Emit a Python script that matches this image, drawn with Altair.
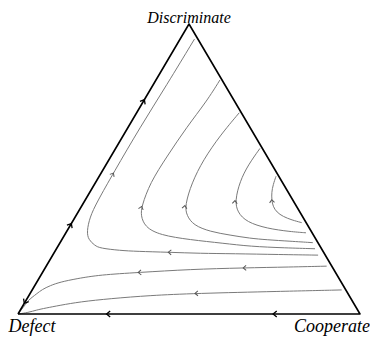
import math
import altair as alt
import pandas as pd

# vertices of the simplex (share of Cooperate, share of Discriminate)
vertex_names = ["Defect", "Cooperate", "Discriminate"]
vertex_coop = [0.0, 1.0, 0.0]
vertex_disc = [0.0, 0.0, 1.0]

# trajectories, in the direction of flow (cooperate share, discriminate share)
a_coop = [0.776, 0.664, 0.525, 0.428, 0.333, 0.239, 0.189, 0.126, 0.107, 0.078, 0.059, 0.043, 0.038, 0.036, 0.035, 0.040, 0.042]
a_disc = [0.203, 0.205, 0.208, 0.209, 0.213, 0.216, 0.219, 0.227, 0.236, 0.256, 0.284, 0.334, 0.385, 0.486, 0.644, 0.790, 0.948]
a_arrows = [4, 13]

b_coop = [0.756, 0.667, 0.562, 0.478, 0.375, 0.279, 0.221, 0.189, 0.176, 0.160, 0.164, 0.171, 0.185, 0.187]
b_disc = [0.225, 0.228, 0.233, 0.244, 0.256, 0.272, 0.300, 0.340, 0.371, 0.452, 0.543, 0.644, 0.734, 0.807]
b_arrows = [8]

c_coop = [0.739, 0.670, 0.599, 0.548, 0.484, 0.420, 0.360, 0.323, 0.301, 0.282, 0.276, 0.283, 0.300]
c_disc = [0.246, 0.251, 0.256, 0.261, 0.272, 0.284, 0.306, 0.340, 0.374, 0.452, 0.531, 0.615, 0.694]
c_arrows = [8]

d_coop = [0.702, 0.654, 0.580, 0.510, 0.466, 0.439, 0.420, 0.416, 0.422]
d_disc = [0.280, 0.284, 0.295, 0.317, 0.351, 0.391, 0.458, 0.514, 0.571]
d_arrows = [5]

e_coop = [0.672, 0.639, 0.607, 0.581, 0.560, 0.545, 0.532, 0.523, 0.517]
e_disc = [0.315, 0.324, 0.336, 0.351, 0.371, 0.394, 0.419, 0.446, 0.475]
e_arrows = [5]

f_coop = [0.820, 0.714, 0.579, 0.426, 0.280, 0.172, 0.111, 0.068, 0.045, 0.028, 0.020, 0.012, 0.007, 0.005, 0.0]
f_disc = [0.165, 0.162, 0.159, 0.154, 0.143, 0.135, 0.122, 0.110, 0.098, 0.084, 0.070, 0.057, 0.047, 0.030, 0.0]
f_arrows = [2, 4]

g_coop = [0.905, 0.727, 0.482, 0.354, 0.243, 0.160, 0.108, 0.069, 0.048, 0.027, 0.0]
g_disc = [0.083, 0.078, 0.071, 0.064, 0.053, 0.042, 0.030, 0.020, 0.014, 0.005, 0.0]
g_arrows = [2]

# arrows on the simplex edges
edge_arrow_coop = [0.0, 0.0, 0.0, 0.259, 0.746]
edge_arrow_disc = [0.739, 0.312, 0.037, 0.0, 0.0]
edge_arrow_toward = ["Discriminate", "Discriminate", "Defect", "Defect", "Defect"]

R3 = math.sqrt(3) / 2


def to_xy(c, s):
    return c + s / 2, s * R3


def screen_angle(dx, dy, ky=1.0):
    return math.degrees(math.atan2(-dy * ky, dx)) % 360


# pixel scale factors of the layout
KX = 342.0
KY = 290.0 / R3

trajs = [
    ("A", a_coop, a_disc, a_arrows),
    ("B", b_coop, b_disc, b_arrows),
    ("C", c_coop, c_disc, c_arrows),
    ("D", d_coop, d_disc, d_arrows),
    ("E", e_coop, e_disc, e_arrows),
    ("F", f_coop, f_disc, f_arrows),
    ("G", g_coop, g_disc, g_arrows),
]

line_rows, arrow_rows = [], []
for name, cs, ds, arr in trajs:
    pts = [to_xy(c, s) for c, s in zip(cs, ds)]
    for i, (x, y) in enumerate(pts):
        line_rows.append({"traj": name, "i": i, "x": x, "y": y})
    for k in arr:
        x0, y0 = pts[k - 1]
        x1, y1 = pts[k + 1]
        arrow_rows.append({"x": pts[k][0], "y": pts[k][1],
                           "ang": screen_angle(x1 - x0, y1 - y0, KY / KX)})
lines_df = pd.DataFrame(line_rows)
arrows_df = pd.DataFrame(arrow_rows)

vxy = {n: to_xy(c, s) for n, c, s in zip(vertex_names, vertex_coop, vertex_disc)}
tri_order = ["Defect", "Cooperate", "Discriminate", "Defect"]
tri_df = pd.DataFrame([{"i": i, "x": vxy[n][0], "y": vxy[n][1]} for i, n in enumerate(tri_order)])

edge_rows = []
for c, s, t in zip(edge_arrow_coop, edge_arrow_disc, edge_arrow_toward):
    x, y = to_xy(c, s)
    tx, ty = vxy[t]
    edge_rows.append({"x": x, "y": y, "ang": screen_angle(tx - x, ty - y, KY / KX)})
edge_df = pd.DataFrame(edge_rows)

label_df = pd.DataFrame([{"name": n, "x": vxy[n][0], "y": vxy[n][1]} for n in vertex_names])

xs = alt.Scale(domain=[-10 / KX, 352 / KX], nice=False, zero=False)
ys = alt.Scale(domain=[-24 / KY, 306 / KY], nice=False, zero=False)
X = alt.X("x:Q", scale=xs, axis=None)
Y = alt.Y("y:Q", scale=ys, axis=None)

chevron = "M -1.2 -1 L 0 0 L -1.2 1"

curves = alt.Chart(lines_df).mark_line(
    color="#7a7a7a", strokeWidth=1, interpolate="basis"
).encode(x=X, y=Y, detail="traj:N", order=alt.Order("i:Q"))

curve_arrows = alt.Chart(arrows_df).mark_point(
    shape=chevron, filled=False, size=24, color="#555555", strokeWidth=1, opacity=1
).encode(x=X, y=Y, angle=alt.Angle("ang:Q", scale=None))

triangle = alt.Chart(tri_df).mark_line(
    color="black", strokeWidth=1.6, strokeJoin="round"
).encode(x=X, y=Y, order=alt.Order("i:Q"))

edge_arrows = alt.Chart(edge_df).mark_point(
    shape=chevron, filled=False, size=36, color="black", strokeWidth=1.3, opacity=1
).encode(x=X, y=Y, angle=alt.Angle("ang:Q", scale=None))

font = "Liberation Serif"
lab_top = alt.Chart(label_df[label_df.name == "Discriminate"]).mark_text(
    font=font, fontStyle="italic", fontSize=16, align="center", baseline="alphabetic", dy=-1.5, color="black"
).encode(x=X, y=Y, text="name:N")
lab_left = alt.Chart(label_df[label_df.name == "Defect"]).mark_text(
    font=font, fontStyle="italic", fontSize=18, align="center", baseline="alphabetic", dx=14, dy=18, color="black"
).encode(x=X, y=Y, text="name:N")
lab_right = alt.Chart(label_df[label_df.name == "Cooperate"]).mark_text(
    font=font, fontStyle="italic", fontSize=18, align="center", baseline="alphabetic", dx=-28, dy=18, color="black"
).encode(x=X, y=Y, text="name:N")

chart = alt.layer(
    curves, curve_arrows, triangle, edge_arrows, lab_top, lab_left, lab_right
).properties(
    width=362, height=330, autosize=alt.AutoSizeParams(type="none"), padding=0, background="white"
).configure_view(stroke=None)

chart.save("out.html", embed_options={"renderer": "svg", "actions": False})
